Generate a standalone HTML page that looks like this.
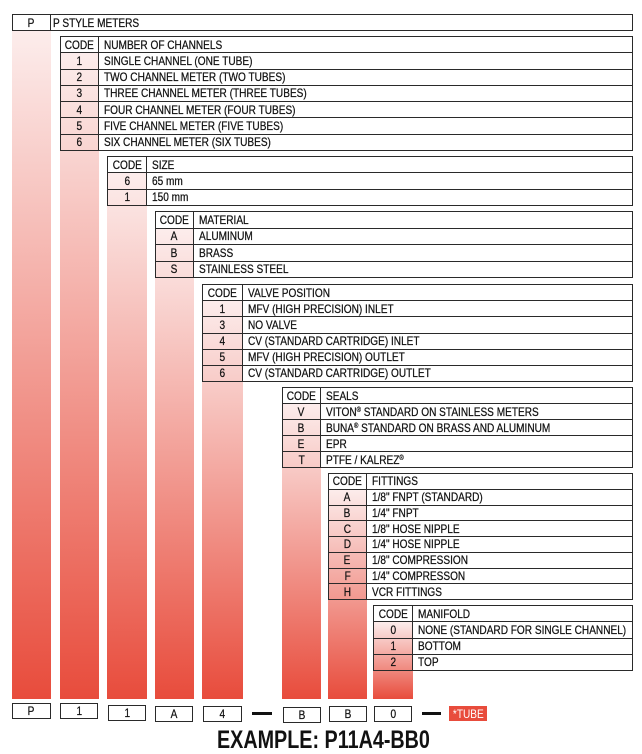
<!DOCTYPE html>
<html><head><meta charset="utf-8"><style>
html,body{margin:0;padding:0;background:#fff;}
body{width:642px;height:754px;position:relative;overflow:hidden;font-family:"Liberation Sans",Arial,sans-serif;color:#111;}
.bar{position:absolute;background:linear-gradient(to bottom,#fcedec 0%,#e84c3c 100%);}
.t{position:absolute;border:1.5px solid #2a2a2a;box-sizing:border-box;display:flex;flex-direction:column;}
.r{flex:1;display:flex;border-top:1.5px solid #2a2a2a;box-sizing:border-box;min-height:0;}
.r:first-child{border-top:none;}
.c{flex-shrink:0;border-right:1.5px solid #2a2a2a;box-sizing:border-box;display:flex;align-items:center;justify-content:center;overflow:hidden;}
.h .c{background:#fff;}
.x{flex:1 1 0;min-width:0;background:#fff;display:flex;align-items:center;padding-left:5px;overflow:visible;white-space:nowrap;}
.s{display:inline-block;font-size:12px;line-height:12px;transform:scaleX(.84);transform-origin:left center;white-space:nowrap;-webkit-text-stroke:0.25px #111;}
.c .s{transform-origin:center center;}
sup{font-size:7px;line-height:0;vertical-align:4px;}
.bx{position:absolute;border:1.5px solid #2a2a2a;box-sizing:border-box;background:#fff;display:flex;align-items:center;justify-content:center;}
.bx .s{transform-origin:center center;}
.dash{position:absolute;height:3px;background:#111;}
.tube{position:absolute;background:#e84c3c;color:#fff;display:flex;align-items:center;justify-content:center;}
.tube .s{-webkit-text-stroke:0;}
.ex{position:absolute;left:217px;top:728px;font-size:25px;line-height:25px;font-weight:bold;color:#111;transform:scaleX(.79);transform-origin:left top;white-space:nowrap;}
</style></head><body>

<div class="bar" style="left:12px;top:30px;width:39px;height:669px"></div>
<div class="bar" style="left:60px;top:52px;width:39px;height:647px"></div>
<div class="bar" style="left:107px;top:172px;width:40px;height:527px"></div>
<div class="bar" style="left:155px;top:228px;width:39px;height:471px"></div>
<div class="bar" style="left:202px;top:300px;width:41px;height:399px"></div>
<div class="bar" style="left:282px;top:404px;width:39px;height:295px"></div>
<div class="bar" style="left:328px;top:489px;width:39px;height:210px"></div>
<div class="bar" style="left:373px;top:622px;width:40px;height:77px"></div>

<!-- P row -->
<div class="t" style="left:12px;top:14px;width:621px;height:17px">
 <div class="r h"><div class="c" style="width:38px"><span class="s">P</span></div><div class="x" style="padding-left:2px"><span class="s">P STYLE METERS</span></div></div>
</div>

<!-- Table 1 -->
<div class="t" style="left:60px;top:36px;width:573px;height:115px">
 <div class="r h"><div class="c" style="width:38px"><span class="s">CODE</span></div><div class="x"><span class="s">NUMBER OF CHANNELS</span></div></div>
 <div class="r"><div class="c" style="width:38px"><span class="s">1</span></div><div class="x"><span class="s">SINGLE CHANNEL (ONE TUBE)</span></div></div>
 <div class="r"><div class="c" style="width:38px"><span class="s">2</span></div><div class="x"><span class="s">TWO CHANNEL METER (TWO TUBES)</span></div></div>
 <div class="r"><div class="c" style="width:38px"><span class="s">3</span></div><div class="x"><span class="s">THREE CHANNEL METER (THREE TUBES)</span></div></div>
 <div class="r"><div class="c" style="width:38px"><span class="s">4</span></div><div class="x"><span class="s">FOUR CHANNEL METER (FOUR TUBES)</span></div></div>
 <div class="r"><div class="c" style="width:38px"><span class="s">5</span></div><div class="x"><span class="s">FIVE CHANNEL METER (FIVE TUBES)</span></div></div>
 <div class="r"><div class="c" style="width:38px"><span class="s">6</span></div><div class="x"><span class="s">SIX CHANNEL METER (SIX TUBES)</span></div></div>
</div>

<!-- Table 2 -->
<div class="t" style="left:107px;top:156px;width:526px;height:50px">
 <div class="r h"><div class="c" style="width:39px"><span class="s">CODE</span></div><div class="x"><span class="s">SIZE</span></div></div>
 <div class="r"><div class="c" style="width:39px"><span class="s">6</span></div><div class="x"><span class="s">65 mm</span></div></div>
 <div class="r"><div class="c" style="width:39px"><span class="s">1</span></div><div class="x"><span class="s">150 mm</span></div></div>
</div>

<!-- Table 3 -->
<div class="t" style="left:155px;top:211px;width:478px;height:67px">
 <div class="r h"><div class="c" style="width:38px"><span class="s">CODE</span></div><div class="x"><span class="s">MATERIAL</span></div></div>
 <div class="r"><div class="c" style="width:38px"><span class="s">A</span></div><div class="x"><span class="s">ALUMINUM</span></div></div>
 <div class="r"><div class="c" style="width:38px"><span class="s">B</span></div><div class="x"><span class="s">BRASS</span></div></div>
 <div class="r"><div class="c" style="width:38px"><span class="s">S</span></div><div class="x"><span class="s">STAINLESS STEEL</span></div></div>
</div>

<!-- Table 4 -->
<div class="t" style="left:202px;top:284px;width:431px;height:98px">
 <div class="r h"><div class="c" style="width:40px"><span class="s">CODE</span></div><div class="x"><span class="s">VALVE POSITION</span></div></div>
 <div class="r"><div class="c" style="width:40px"><span class="s">1</span></div><div class="x"><span class="s">MFV (HIGH PRECISION) INLET</span></div></div>
 <div class="r"><div class="c" style="width:40px"><span class="s">3</span></div><div class="x"><span class="s">NO VALVE</span></div></div>
 <div class="r"><div class="c" style="width:40px"><span class="s">4</span></div><div class="x"><span class="s">CV (STANDARD CARTRIDGE) INLET</span></div></div>
 <div class="r"><div class="c" style="width:40px"><span class="s">5</span></div><div class="x"><span class="s">MFV (HIGH PRECISION) OUTLET</span></div></div>
 <div class="r"><div class="c" style="width:40px"><span class="s">6</span></div><div class="x"><span class="s">CV (STANDARD CARTRIDGE) OUTLET</span></div></div>
</div>

<!-- Table 5 -->
<div class="t" style="left:282px;top:387px;width:351px;height:81px">
 <div class="r h"><div class="c" style="width:38px"><span class="s">CODE</span></div><div class="x"><span class="s">SEALS</span></div></div>
 <div class="r"><div class="c" style="width:38px"><span class="s">V</span></div><div class="x"><span class="s">VITON<sup>®</sup> STANDARD ON STAINLESS METERS</span></div></div>
 <div class="r"><div class="c" style="width:38px"><span class="s">B</span></div><div class="x"><span class="s">BUNA<sup>®</sup> STANDARD ON BRASS AND ALUMINUM</span></div></div>
 <div class="r"><div class="c" style="width:38px"><span class="s">E</span></div><div class="x"><span class="s">EPR</span></div></div>
 <div class="r"><div class="c" style="width:38px"><span class="s">T</span></div><div class="x"><span class="s">PTFE / KALREZ<sup>®</sup></span></div></div>
</div>

<!-- Table 6 -->
<div class="t" style="left:328px;top:473px;width:305px;height:127px">
 <div class="r h"><div class="c" style="width:38px"><span class="s">CODE</span></div><div class="x"><span class="s">FITTINGS</span></div></div>
 <div class="r"><div class="c" style="width:38px"><span class="s">A</span></div><div class="x"><span class="s">1/8" FNPT (STANDARD)</span></div></div>
 <div class="r"><div class="c" style="width:38px"><span class="s">B</span></div><div class="x"><span class="s">1/4" FNPT</span></div></div>
 <div class="r"><div class="c" style="width:38px"><span class="s">C</span></div><div class="x"><span class="s">1/8" HOSE NIPPLE</span></div></div>
 <div class="r"><div class="c" style="width:38px"><span class="s">D</span></div><div class="x"><span class="s">1/4" HOSE NIPPLE</span></div></div>
 <div class="r"><div class="c" style="width:38px"><span class="s">E</span></div><div class="x"><span class="s">1/8" COMPRESSION</span></div></div>
 <div class="r"><div class="c" style="width:38px"><span class="s">F</span></div><div class="x"><span class="s">1/4" COMPRESSON</span></div></div>
 <div class="r"><div class="c" style="width:38px"><span class="s">H</span></div><div class="x"><span class="s">VCR FITTINGS</span></div></div>
</div>

<!-- Table 7 -->
<div class="t" style="left:373px;top:605px;width:260px;height:66px">
 <div class="r h"><div class="c" style="width:39px"><span class="s">CODE</span></div><div class="x"><span class="s">MANIFOLD</span></div></div>
 <div class="r"><div class="c" style="width:39px"><span class="s">0</span></div><div class="x"><span class="s">NONE (STANDARD FOR SINGLE CHANNEL)</span></div></div>
 <div class="r"><div class="c" style="width:39px"><span class="s">1</span></div><div class="x"><span class="s">BOTTOM</span></div></div>
 <div class="r"><div class="c" style="width:39px"><span class="s">2</span></div><div class="x"><span class="s">TOP</span></div></div>
</div>

<!-- bottom boxes -->
<div class="bx" style="left:12px;top:703px;width:39px;height:16px"><span class="s">P</span></div>
<div class="bx" style="left:60px;top:703px;width:38px;height:16px"><span class="s">1</span></div>
<div class="bx" style="left:108px;top:705px;width:38px;height:16px"><span class="s">1</span></div>
<div class="bx" style="left:155px;top:706px;width:38px;height:16px"><span class="s">A</span></div>
<div class="bx" style="left:203px;top:706px;width:39px;height:16px"><span class="s">4</span></div>
<div class="dash" style="left:252px;top:712px;width:20px"></div>
<div class="bx" style="left:283px;top:707px;width:38px;height:16px"><span class="s">B</span></div>
<div class="bx" style="left:329px;top:706px;width:38px;height:16px"><span class="s">B</span></div>
<div class="bx" style="left:374px;top:706px;width:38px;height:16px"><span class="s">0</span></div>
<div class="dash" style="left:422px;top:712px;width:19px"></div>
<div class="tube" style="left:449px;top:706px;width:38px;height:15px"><span class="s" style="transform-origin:center center">*TUBE</span></div>

<div class="ex">EXAMPLE: P11A4-BB0</div>

</body></html>
